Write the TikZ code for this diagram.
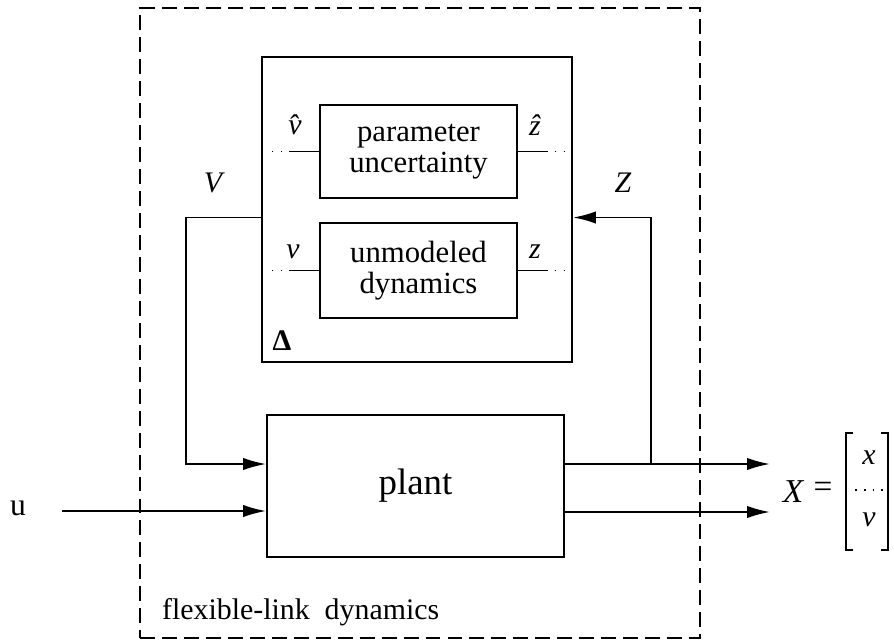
\documentclass[tikz,border=0pt]{standalone}
\usepackage{fontspec}
\setmainfont{Liberation Serif}
\usetikzlibrary{arrows.meta, positioning, calc}
\tikzset{
    % Box styles - all sharp corners
    block/.style={
        rectangle,
        draw,
        line width=1.1pt,
        inner sep=0pt,
        align=center,
        font=\fontsize{17.5}{18}\selectfont
    },
    deltabox/.style={
        rectangle,
        draw,
        line width=1.2pt,
        minimum width=6.2cm,
        minimum height=6.1cm
    },
    plantbox/.style={
        rectangle,
        draw,
        line width=1.1pt,
        minimum width=5.94cm,
        minimum height=2.84cm,
        font=\fontsize{21}{24}\selectfont
    },
    outerbox/.style={
        rectangle,
        draw,
        line width=1.2pt,
        dash pattern=on 8.5pt off 4pt,
        minimum width=11.2cm,
        minimum height=12.6cm
    },
    % Label styles
    sig/.style={
        inner sep=1pt,
        font=\fontsize{17}{20}\selectfont\itshape
    },
    plain/.style={
        inner sep=1pt,
        font=\fontsize{17}{20}\selectfont
    },
    % Line styles - straight lines only
    wire/.style={
        line width=1.1pt
    },
    dotline/.style={
        line width=1pt,
        dash pattern=on 1pt off 4pt
    },
    arrow/.style={
        -{Latex[length=13pt,width=7pt]},
        line width=1.1pt
    }
}
\begin{document}
\begin{tikzpicture}[x=0.02cm, y=-0.02cm]
    \useasboundingbox (0,0) rectangle (894,643);

    \node[outerbox] (flex) at (420,323) {};
    \node[deltabox] (delta) at (417,209.5) {};
    \node[block, minimum width=3.94cm, minimum height=1.86cm] (param) at (418.5,151.5) {parameter\\uncertainty};
    \node[block, minimum width=3.94cm, minimum height=1.9cm] (unmod) at (418.5,270.5) {unmodeled\\dynamics};
    \node[plantbox] (plant) at (415.5,486) {plant};

    % signals inside the uncertainty block
    \node[sig] (vhat) at (295,125) {\^{v}};
    \node[sig] (zhat) at (535,125) {\^{z}};
    \node[sig] (vsig) at (293,252) {v};
    \node[sig] (zsig) at (535,252) {z};
    \node[plain, font=\fontsize{17}{20}\selectfont\bfseries] (dlab) at (282,341) {Δ};

    \draw[wire] (param.west) -- ++(-28,0) coordinate (pin);
    \draw[dotline] (pin) -- ++(-20,0);
    \draw[wire] (param.east) -- ++(28,0) coordinate (pout);
    \draw[dotline] (pout) -- ++(22,0);
    \draw[wire] (unmod.west) -- ++(-28,0) coordinate (uin);
    \draw[dotline] (uin) -- ++(-20,0);
    \draw[wire] (unmod.east) -- ++(28,0) coordinate (uout);
    \draw[dotline] (uout) -- ++(22,0);

    % feedback loop
    \node[sig] (Vlab) at (213,183) {V};
    \node[sig] (Zlab) at (623,183) {Z};
    \coordinate (vout) at ($(delta.west)+(0,8)$);
    \coordinate (zin) at ($(delta.east)+(0,8)$);
    \coordinate (pin1) at ($(plant.west)+(0,-22)$);
    \coordinate (pin2) at ($(plant.west)+(0,25)$);
    \coordinate (pout1) at ($(plant.east)+(0,-22)$);
    \coordinate (pout2) at ($(plant.east)+(0,26)$);
    \coordinate (tap) at ($(pout1)+(86,0)$);

    \draw[arrow] (vout) -- ++(-75,0) |- (pin1);
    \draw[arrow] (tap) |- (zin);

    % input and outputs
    \node[plain, font=\fontsize{18}{20}\selectfont] (u) at (18,508) {u};
    \coordinate (ustart) at (62,511);
    \draw[arrow] (ustart) -- (pin2);
    \coordinate (xend1) at (770,464);
    \coordinate (xend2) at (770,512);
    \draw[arrow] (pout1) -- (xend1);
    \draw[arrow] (pout2) -- (xend2);

    % output vector
    \node[sig, font=\fontsize{19}{20}\selectfont\itshape] (Xlab) at (793,492) {X};
    \node[plain, font=\fontsize{19}{20}\selectfont] (eq) at (823,490) {=};
    \node[sig] (xel) at (869,458) {x};
    \node[sig] (vel) at (869,520) {v};
    \draw[wire] (853,433) -| (846,550) -- (853,550);
    \draw[wire] (881,433) -| (888,550) -- (881,550);
    \draw[dotline] (855,490) -- (886,490);

    \node[plain, anchor=west] (flexlab) at (160,612) {flexible-link\ \ dynamics};
\end{tikzpicture}
\end{document}
